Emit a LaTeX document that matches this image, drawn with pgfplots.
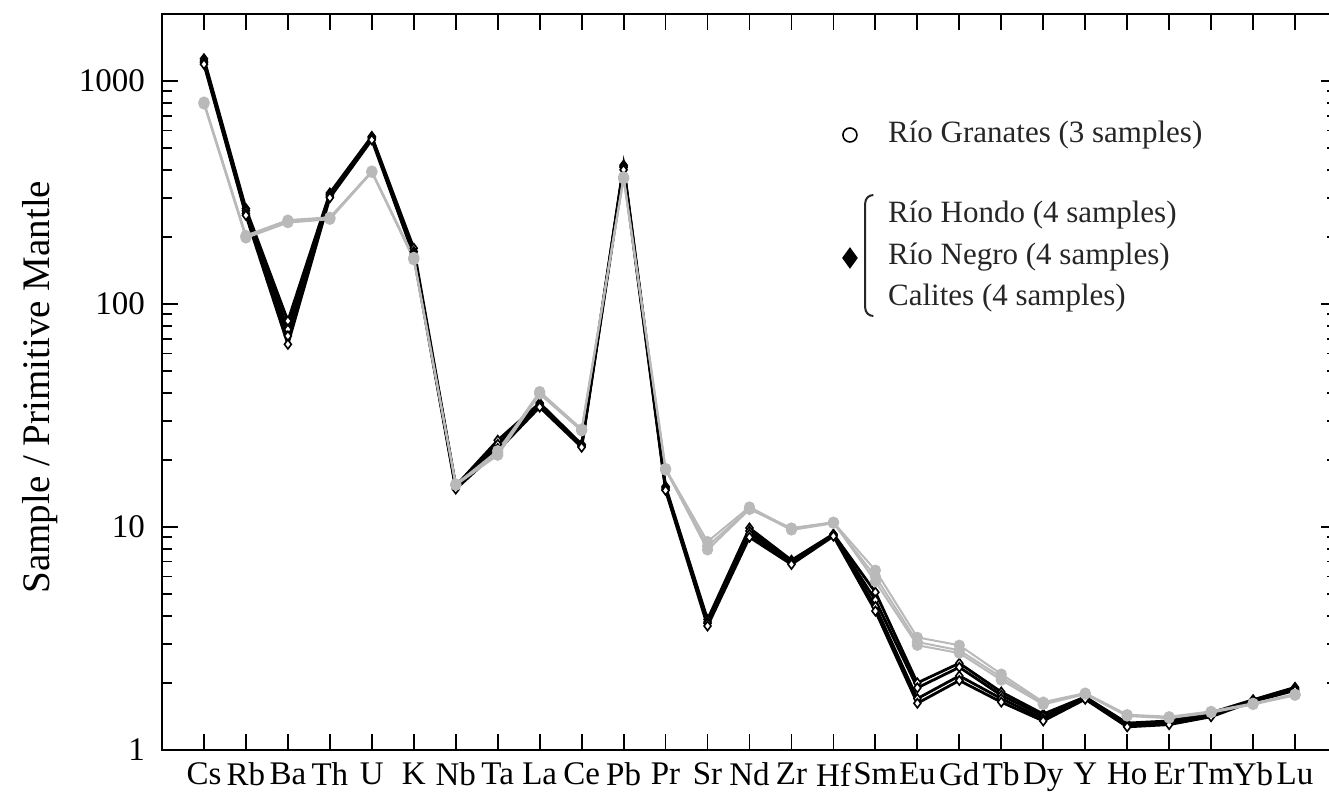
\documentclass[border=0pt]{standalone}
\usepackage{pgfplots}
\pgfplotsset{compat=1.18}
\usepackage{pgfplotstable}
\usepackage{fontspec}
\setmainfont{Liberation Serif}
\usetikzlibrary{shapes.geometric}

% Rio Hondo / Rio Negro / Calites (black)
\pgfplotstableread{
x  b1    b2    b3    b4
0  1260  1230  1210  1190
1  268   262   255   250
2  84    77    72    66
3  315   310   305   300
4  565   560   555   545
5  178   172   168   165
6  15.3  15.0  15.2  14.8
7  24.5  23.5  22.5  22.0
8  36    35.5  35    34.5
9  23.5  23.2  23.0  22.8
10 420   415   410   400
11 15.2  15.0  14.8  14.6
12 3.85  3.75  3.70  3.60
13 9.9   9.6   9.3   9.0
14 7.1   7.0   6.9   6.8
15 9.3   9.2   9.2   9.1
16 5.1   4.7   4.4   4.2
17 2.00  1.90  1.70  1.62
18 2.45  2.35  2.15  2.05
19 1.82  1.76  1.70  1.64
20 1.45  1.42  1.38  1.35
21 1.73  1.72  1.70  1.69
22 1.32  1.30  1.28  1.27
23 1.35  1.33  1.31  1.30
24 1.47  1.45  1.43  1.41
25 1.68  1.67  1.66  1.65
26 1.91  1.89  1.87  1.85
}\blacksamples

% Rio Granates (grey)
\pgfplotstableread{
x  g1    g2    g3
0  800   790   805
1  201   198   203
2  235   232   238
3  243   240   245
4  395   390   392
5  160   158   162
6  15.6  15.4  15.5
7  21.5  21.0  22.0
8  40.5  39.5  40.0
9  27.5  27.0  27.2
10 372   365   368
11 18.3  18.0  18.2
12 8.6   8.2   7.9
13 12.3  12.1  12.0
14 9.8   9.7   9.9
15 10.5  10.4  10.5
16 6.4   6.0   5.7
17 3.20  3.05  2.95
18 2.95  2.80  2.72
19 2.19  2.12  2.06
20 1.64  1.62  1.60
21 1.80  1.79  1.78
22 1.44  1.43  1.42
23 1.41  1.40  1.39
24 1.49  1.48  1.47
25 1.62  1.61  1.60
26 1.78  1.77  1.76
}\greysamples

\begin{document}
\begin{tikzpicture}
\begin{axis}[
  name=ax,
  at={(0,0)}, anchor=south west,
  scale only axis,
  width=587.5pt, height=368pt,
  xmin=-1, xmax=27,
  ymode=log, ymin=1, ymax=2000,
  axis line style={line width=1.1pt},
  tick align=inside,
  major tick length=8pt,
  minor tick length=5pt,
  every tick/.style={line width=0.9pt, black},
  xtick={0,...,26},
  xticklabels={Cs,Rb,Ba,Th,U,K,Nb,Ta,La,Ce,Pb,Pr,Sr,Nd,Zr,Hf,Sm,Eu,Gd,Tb,Dy,Y,Ho,Er,Tm,Yb,Lu},
  ytick={1,10,100,1000},
  yticklabels={1,10,100,1000},
  minor ytick={2,3,4,5,6,7,8,9,20,30,40,50,60,70,80,90,200,300,400,500,600,700,800,900,2000},
  ticklabel style={font=\fontsize{16.5}{19}\selectfont},
  xticklabel style={yshift=-3pt},
  yticklabel style={xshift=-5pt},
  ylabel={Sample / Primitive Mantle},
  ylabel style={font=\fontsize{19.5}{22}\selectfont, at={(rel axis cs:0,0.493)}, yshift=61pt, anchor=center},
  clip=false,
]

\foreach \c in {b1,b2,b3,b4}{
  \addplot[black, line width=1.4pt, mark=diamond*, mark size=2.3pt,
    mark options={fill=white, draw=black, line width=0.8pt}]
    table[x=x, y=\c] {\blacksamples};
}
\foreach \c in {g1,g2,g3}{
  \addplot[gray!55, line width=1pt, mark=*, mark size=2.3pt,
    mark options={fill=gray!55, draw=gray!55}]
    table[x=x, y=\c] {\greysamples};
}

% legend
\node[circle, draw=black, line width=0.8pt, inner sep=0pt, minimum size=7pt] at (rel axis cs:0.5855,0.8356) {};
\node[anchor=west, text=black!85, font=\fontsize{15.5}{18}\selectfont] at (rel axis cs:0.612,0.8356) {Río Granates (3 samples)};
\node[diamond, fill=black, inner sep=0pt, minimum width=8pt, minimum height=11pt] at (rel axis cs:0.5855,0.6685) {};
\draw[black!85, line width=1pt, rounded corners=4pt]
  (rel axis cs:0.6045,0.754) -- (rel axis cs:0.5985,0.754) -- (rel axis cs:0.5985,0.5897) -- (rel axis cs:0.6045,0.5897);
\node[anchor=west, text=black!85, font=\fontsize{15.5}{18}\selectfont] at (rel axis cs:0.612,0.7269) {Río Hondo (4 samples)};
\node[anchor=west, text=black!85, font=\fontsize{15.5}{18}\selectfont] at (rel axis cs:0.612,0.6698) {Río Negro (4 samples)};
\node[anchor=west, text=black!85, font=\fontsize{15.5}{18}\selectfont] at (rel axis cs:0.612,0.6141) {Calites (4 samples)};

\end{axis}
\pgfresetboundingbox
\useasboundingbox ([shift={(-81pt,-24pt)}]ax.south west) rectangle ([shift={(583.5pt,375pt)}]ax.south west);
\end{tikzpicture}
\end{document}
